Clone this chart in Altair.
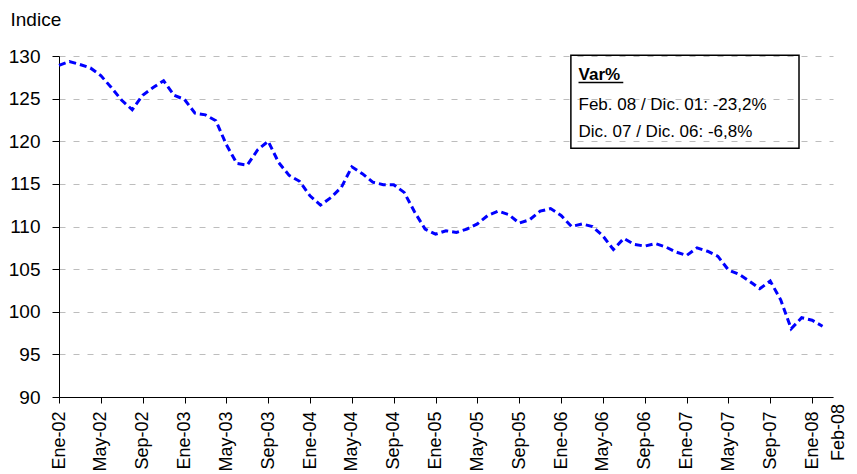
import altair as alt
import pandas as pd

# ---- data ----
meses = ["Ene", "Feb", "Mar", "Abr", "May", "Jun", "Jul", "Ago", "Sep", "Oct", "Nov", "Dic"]
indice = [
    128.9, 129.35, 129.0, 128.6, 127.7, 126.3, 124.8, 123.7, 125.4, 126.3, 127.1, 125.4,   # 2002
    124.9, 123.3, 123.1, 122.4, 119.6, 117.4, 117.2, 119.0, 120.0, 117.5, 116.0, 115.3,   # 2003
    113.6, 112.5, 113.4, 114.6, 117.0, 116.2, 115.2, 114.9, 114.9, 114.0, 111.7, 109.7,   # 2004
    109.1, 109.5, 109.3, 109.7, 110.3, 111.3, 111.8, 111.4, 110.4, 110.8, 111.8, 112.1,   # 2005
    111.3, 110.0, 110.3, 110.0, 108.9, 107.3, 108.6, 107.9, 107.7, 108.0, 107.6, 107.0,   # 2006
    106.6, 107.5, 107.1, 106.5, 104.9, 104.4, 103.6, 102.7, 103.6, 101.4, 98.0, 99.3,     # 2007
    99.0, 98.3,                                                                           # 2008
]
tick_labels = ["Ene-02", "May-02", "Sep-02", "Ene-03", "May-03", "Sep-03", "Ene-04",
               "May-04", "Sep-04", "Ene-05", "May-05", "Sep-05", "Ene-06", "May-06",
               "Sep-06", "Ene-07", "May-07", "Sep-07", "Ene-08"]
ultimo_label = "Feb-08"
y_ticks = [90, 95, 100, 105, 110, 115, 120, 125, 130]
nota_titulo = "Var%"
nota_lineas = ["Feb. 08 / Dic. 01: -23,2%", "Dic. 07 / Dic. 06: -6,8%"]

FONT = "Liberation Sans"
W, H = 774, 341

periodo = [f"{meses[k % 12]}-{2 + k // 12:02d}" for k in range(len(indice))]
df = pd.DataFrame({"i": list(range(len(indice))), "indice": indice, "periodo": periodo})

tick_vals = [4 * k for k in range(len(tick_labels))]
label_arr = "[" + ",".join(f"'{t}'" for t in tick_labels) + "]"

x_scale = alt.Scale(domain=[0, len(indice)], nice=False, zero=False)
y_scale = alt.Scale(domain=[90, 130], nice=False, zero=False)

x_enc = alt.X(
    "i:Q", scale=x_scale,
    axis=alt.Axis(values=tick_vals, labelExpr=f"{label_arr}[round(datum.value/4)]",
                  labelAngle=270, labelFont=FONT, labelFontSize=18, labelColor="#000000",
                  labelPadding=8, labelOverlap=False, tickSize=6, tickColor="#000000",
                  domainColor="#000000", domainWidth=1, grid=False, title=None),
)
y_enc = alt.Y(
    "indice:Q", scale=y_scale,
    axis=alt.Axis(values=y_ticks, labelFont=FONT, labelFontSize=19, labelColor="#000000",
                  labelPadding=12, tickSize=7, tickColor="#000000", domainColor="#000000",
                  domainWidth=1, grid=True, gridColor="#bdbdbd", gridDash=[6, 8], gridWidth=1.2,
                  title="Indice", titleAngle=0, titleAlign="left", titleBaseline="alphabetic",
                  titleX=-49, titleY=-31, titleFont=FONT, titleFontSize=19,
                  titleFontWeight="normal", titleColor="#000000"),
)

linea = alt.Chart(df).mark_line(color="#0000ff", strokeWidth=3, strokeDash=[7, 4]).encode(
    x=x_enc, y=y_enc
)

# Feb-08 extra label beside the last tick
ult = pd.DataFrame({"i": [len(indice) - 1], "lab": [ultimo_label]})
ult_text = alt.Chart(ult).mark_text(
    angle=270, align="right", baseline="middle", dy=16, font=FONT, fontSize=18, color="#000000"
).encode(x=alt.X("i:Q", scale=x_scale), y=alt.value(H + 7), text="lab:N")

# annotation box (in data coordinates)
caja = pd.DataFrame({"x0": [48.94], "x1": [70.75], "y0": [130.1], "y1": [119.17]})
caja_mark = alt.Chart(caja).mark_rect(filled=False, stroke="#000000", strokeWidth=1.5).encode(
    x=alt.X("x0:Q", scale=x_scale), x2="x1", y=alt.Y("y0:Q", scale=y_scale), y2="y1"
)
tit = pd.DataFrame({"x": [49.67], "y": [127.18], "t": [nota_titulo]})
tit_mark = alt.Chart(tit).mark_text(
    align="left", baseline="alphabetic", font=FONT, fontSize=17, fontWeight="bold", color="#000000"
).encode(x=alt.X("x:Q", scale=x_scale), y=alt.Y("y:Q", scale=y_scale), text="t:N")
lineas = pd.DataFrame({"x": [49.67, 49.67], "y": [123.66, 120.49], "t": nota_lineas})
lineas_mark = alt.Chart(lineas).mark_text(
    align="left", baseline="alphabetic", font=FONT, fontSize=17, color="#000000"
).encode(x=alt.X("x:Q", scale=x_scale), y=alt.Y("y:Q", scale=y_scale), text="t:N")
subr = pd.DataFrame({"x0": [49.67], "x1": [53.95], "y": [126.88]})
subr_mark = alt.Chart(subr).mark_rule(color="#000000", strokeWidth=1.5).encode(
    x=alt.X("x0:Q", scale=x_scale), x2="x1", y=alt.Y("y:Q", scale=y_scale)
)

chart = alt.layer(linea, ult_text, caja_mark, tit_mark, lineas_mark, subr_mark).properties(
    width=W, height=H,
    autosize=alt.AutoSizeParams(type="none"),
    padding={"left": 51, "top": 48, "right": 16, "bottom": 78},
    background="#ffffff",
).configure_view(stroke=None)

chart.save("out.html", embed_options={"renderer": "svg", "actions": False})
